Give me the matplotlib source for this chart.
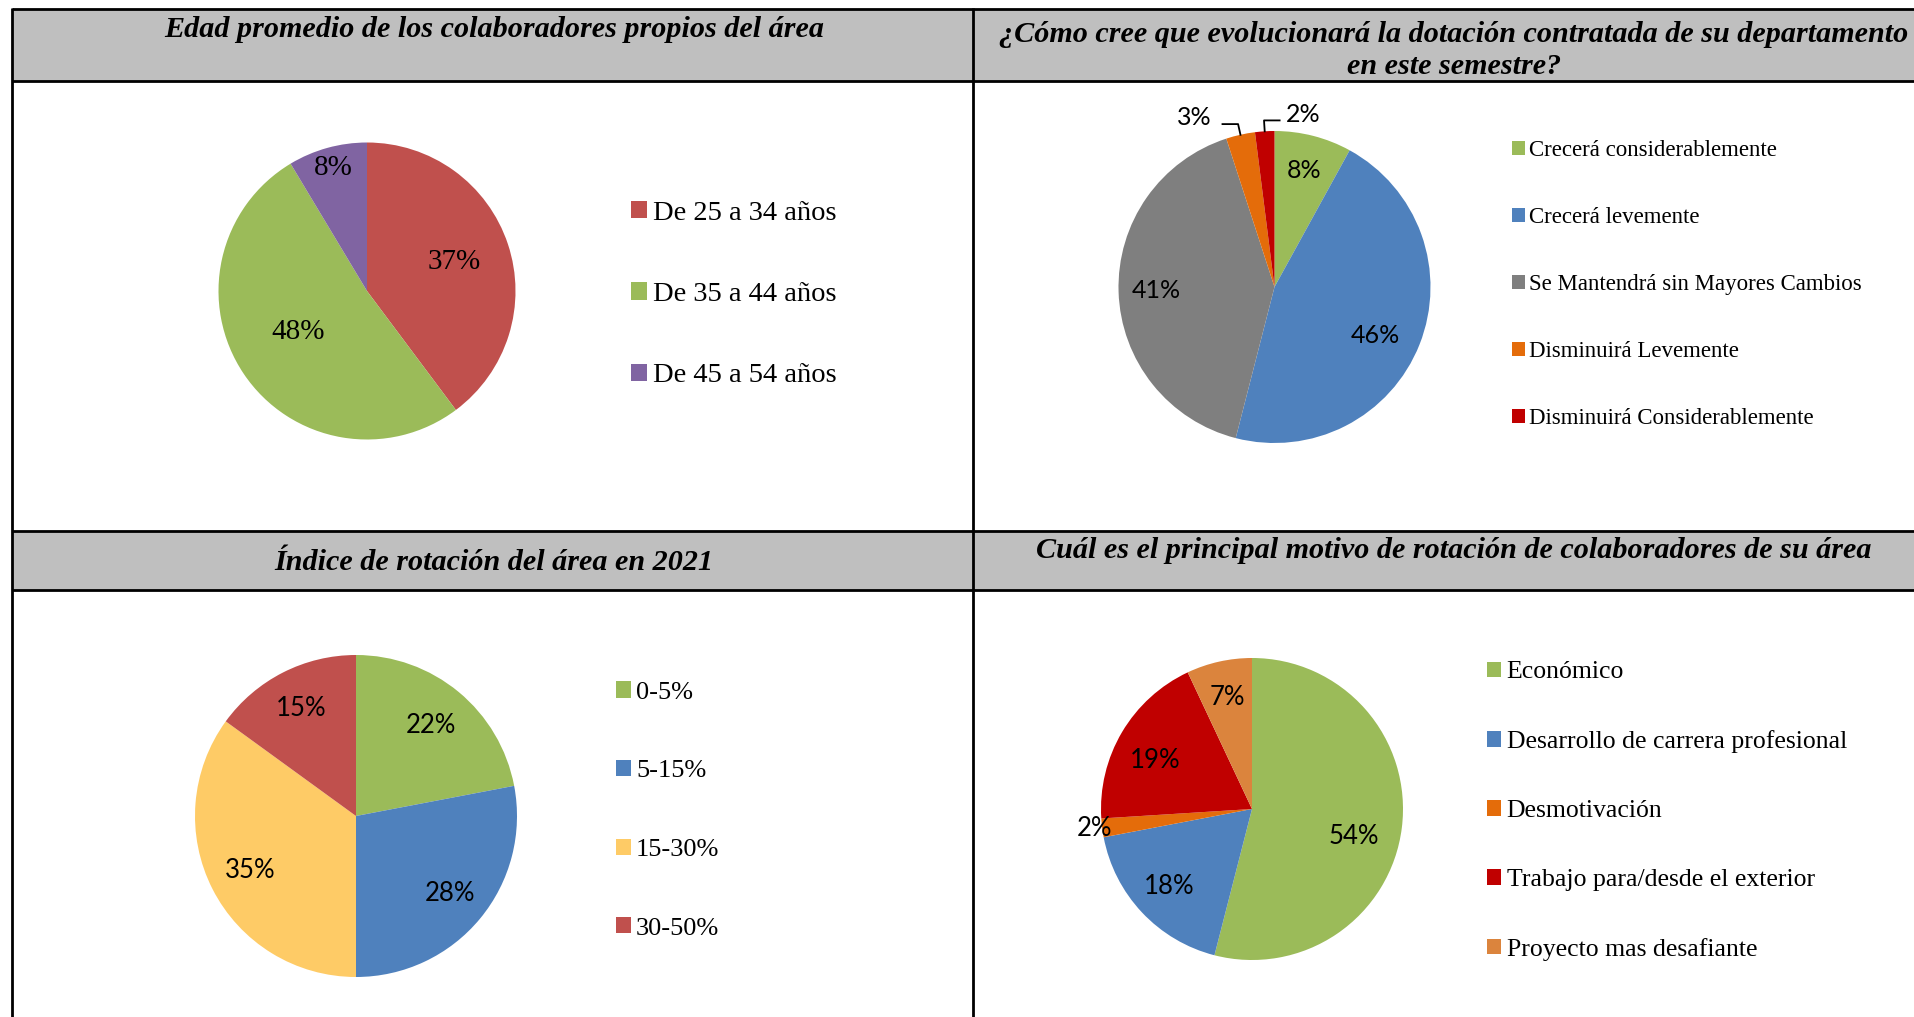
import matplotlib.pyplot as plt
import numpy as np
from matplotlib.patches import Rectangle

# --- data ---------------------------------------------------------------
edad_titulo = "Edad promedio de los colaboradores propios del área"
edad_cats = ["De 25 a 34 años", "De 35 a 44 años", "De 45 a 54 años"]
edad_vals = [37, 48, 8]
edad_lbls = ["37%", "48%", "8%"]

dot_titulo = "¿Cómo cree que evolucionará la dotación contratada de su departamento\nen este semestre?"
dot_cats = ["Crecerá considerablemente", "Crecerá levemente",
            "Se Mantendrá sin Mayores Cambios", "Disminuirá Levemente",
            "Disminuirá Considerablemente"]
dot_vals = [8, 46, 41, 3, 2]
dot_lbls = ["8%", "46%", "41%", "3%", "2%"]

rot_titulo = "Índice de rotación del área en 2021"
rot_cats = ["0-5%", "5-15%", "15-30%", "30-50%"]
rot_vals = [22, 28, 35, 15]
rot_lbls = ["22%", "28%", "35%", "15%"]

mot_titulo = "Cuál es el principal motivo de rotación de colaboradores de su área"
mot_cats = ["Económico", "Desarrollo de carrera profesional", "Desmotivación",
            "Trabajo para/desde el exterior", "Proyecto mas desafiante"]
mot_vals = [54, 18, 2, 19, 7]
mot_lbls = ["54%", "18%", "2%", "19%", "7%"]

# --- layout (pixels) ------------------------------------------------------
W, H = 1914, 1017
SERIF = "Liberation Serif"
SANS = "Lato"
GRAY = "#BFBFBF"

fig = plt.figure(figsize=(W / 100, H / 100), dpi=100)
bg = fig.add_axes([0, 0, 1, 1])
bg.set_xlim(0, W)
bg.set_ylim(H, 0)
bg.axis("off")

# table: header bands and grid lines
bg.add_patch(Rectangle((12, 9), W - 12, 72, fc=GRAY, ec="none"))
bg.add_patch(Rectangle((12, 531), W - 12, 59, fc=GRAY, ec="none"))
for y in [9, 81, 531, 590]:
    bg.plot([12, W], [y, y], color="black", lw=2, solid_capstyle="butt")
for x in [12, 973]:
    bg.plot([x, x], [8, H], color="black", lw=2, solid_capstyle="butt")

tkw = dict(fontfamily=SERIF, fontsize=21.7, fontweight="bold", fontstyle="italic",
           ha="center", va="center")
bg.text(494, 29.5, edad_titulo, **tkw)
for i, line in enumerate(dot_titulo.split("\n")):
    bg.text(1454, 34.5 + 32.5 * i, line, **tkw)
bg.text(494, 562.5, rot_titulo, **tkw)
bg.text(1454, 550.5, mot_titulo, **tkw)


def pie_panel(cx, cy, r, vals, colors, lbls, dists, offs, lfont, lsize):
    ax = fig.add_axes([(cx - r) / W, 1 - (cy + r) / H, 2 * r / W, 2 * r / H])
    wedges, _ = ax.pie(vals, colors=colors, startangle=90, counterclock=False,
                       radius=1, wedgeprops=dict(linewidth=0))
    ax.set_xlim(-1, 1)
    ax.set_ylim(-1, 1)
    ax.axis("off")
    for w, t, d, o in zip(wedges, lbls, dists, offs):
        mid = np.deg2rad((w.theta1 + w.theta2) / 2)
        a = mid + np.deg2rad(o)
        tx, ty = d * np.cos(a), d * np.sin(a)
        ax.text(tx, ty, t, ha="center", va="center", fontfamily=lfont,
                fontsize=lsize, color="black", clip_on=False)
        if d > 1.1:
            # leader line: wedge edge -> elbow -> toward the label
            ex, ey = np.cos(mid), np.sin(mid)
            kx, ky = 1.07 * np.cos(mid), 1.07 * np.sin(mid)
            side = np.sign(tx - kx)
            ax.plot([ex, kx, kx + side * 0.1], [ey, ky, ky], color="black",
                    lw=1.3, clip_on=False)
    return ax, wedges


def legend_panel(ax, wedges, cats, x, y, size, spacing):
    ax.legend(wedges, cats, loc="center left", bbox_to_anchor=(x, y),
              bbox_transform=bg.transData, frameon=False, borderpad=0,
              borderaxespad=0, handlelength=0.56, handleheight=0.56,
              handletextpad=0.2, labelspacing=spacing,
              prop=dict(family=SERIF, size=size))


ax1, w1 = pie_panel(367, 291, 148.5, edad_vals,
                    ["#C0504D", "#9BBB59", "#8064A2"], edad_lbls,
                    [0.62, 0.54, 0.86], [0, -3, 0], SERIF, 21)
legend_panel(ax1, w1, edad_cats, 631, 294.5, 20.5, 1.98)

ax2, w2 = pie_panel(1274.5, 287, 156, dot_vals,
                    ["#9BBB59", "#4F81BD", "#7F7F7F", "#E46C0A", "#C00000"],
                    dot_lbls, [0.77, 0.72, 0.76, 1.2, 1.12],
                    [0, -4, 0, 12.7, -13], SANS, 18)
legend_panel(ax2, w2, dot_cats, 1512, 284.5, 16.5, 2.0)

ax3, w3 = pie_panel(356, 816, 161, rot_vals,
                    ["#9BBB59", "#4F81BD", "#FECB66", "#C0504D"], rot_lbls,
                    [0.73, 0.76, 0.74, 0.75], [0, 0, 0, 0], SANS, 18.5)
legend_panel(ax3, w3, rot_cats, 616, 810.5, 19, 2.13)

ax4, w4 = pie_panel(1252, 809, 151, mot_vals,
                    ["#9BBB59", "#4F81BD", "#E46C0A", "#C00000", "#DB843D"],
                    mot_lbls, [0.70, 0.75, 1.05, 0.72, 0.76],
                    [-8, 0, 0, 4, 0], SANS, 18.5)
legend_panel(ax4, w4, mot_cats, 1487, 811, 18.5, 1.82)

fig.savefig("out.png", dpi=100, facecolor="white")
